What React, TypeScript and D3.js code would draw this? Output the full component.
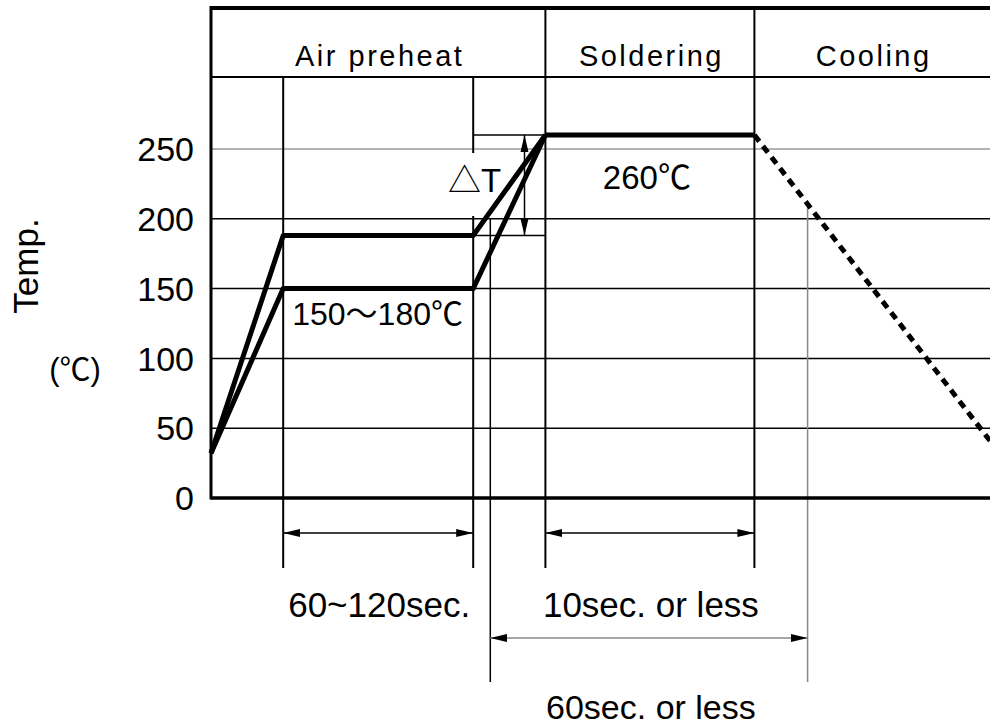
import * as d3 from 'd3';

// stage boundaries along the (schematic) time axis
const stageBounds = [0, 176, 286, 410];
const stageNames = ['Air preheat', 'Soldering', 'Cooling'];

// temperature ticks
const tempTicks = [0, 50, 100, 150, 200, 250];

// profile: [time, temp]
const upperProfile: [number, number][] = [[0, 32], [38, 188], [138, 188], [176, 260]];
const lowerProfile: [number, number][] = [[0, 32], [38, 150], [138, 150], [176, 260]];
const solderProfile: [number, number][] = [[176, 260], [286, 260]];
const coolingProfile: [number, number][] = [[286, 260], [410, 41]];

// dimension marks
const preheatSpan = [38, 138];
const solderSpan = [176, 286];
const dwellSpan = [147, 314];
const deltaT = { t: 165, from: 188, to: 260, x0: 138, x1: 176 };

const W = 990;
const H = 727;
const FONT = "'Liberation Sans', Arial, 'Noto Sans CJK JP', sans-serif";

export default function App() {
  const x = d3.scaleLinear().domain([0, 410]).range([211, 990]);
  const y = d3.scaleLinear().domain([0, 250]).range([498, 149]);
  const line = d3.line<[number, number]>().x(d => x(d[0])).y(d => y(d[1]));

  const topY = 8;
  const headY = 77;
  const extBottom = 568;
  const longBottom = 682;
  const dim1Y = 533;
  const dim2Y = 638;

  // where the 60 sec boundary meets the cooling slope
  const coolAt = d3.scaleLinear()
    .domain([coolingProfile[0][0], coolingProfile[1][0]])
    .range([coolingProfile[0][1], coolingProfile[1][1]]);

  return (
    <svg width={W} height={H} style={{ position: 'absolute', left: 0, top: 0, background: '#fff' }}
      fontFamily={FONT}>
      <defs>
        <marker id="ah" markerUnits="userSpaceOnUse" markerWidth={18} markerHeight={10}
          viewBox="0 -5 18 10" refX={17} refY={0} orient="auto-start-reverse">
          <path d="M0,-4L17,0L0,4Z" fill="#000" />
        </marker>
      </defs>

      {/* gridlines */}
      {tempTicks.slice(1).map(v => (
        <line key={v} x1={x(0)} x2={W} y1={y(v)} y2={y(v)}
          stroke={v === 250 ? '#999' : '#000'} strokeWidth={1.5} />
      ))}

      {/* header frame */}
      <line x1={x(0)} x2={W} y1={topY} y2={topY} stroke="#000" strokeWidth={4} />
      <line x1={x(0)} x2={W} y1={headY} y2={headY} stroke="#000" strokeWidth={2} />
      {stageBounds.slice(1, 3).map(t => (
        <line key={t} x1={x(t)} x2={x(t)} y1={topY} y2={extBottom} stroke="#000" strokeWidth={2} />
      ))}
      {preheatSpan.map(t => (
        <line key={t} x1={x(t)} x2={x(t)} y1={headY} y2={extBottom} stroke="#000" strokeWidth={2} />
      ))}
      <line x1={x(dwellSpan[0])} x2={x(dwellSpan[0])} y1={y(200)} y2={longBottom} stroke="#000" strokeWidth={1.5} />
      <line x1={x(dwellSpan[1])} x2={x(dwellSpan[1])} y1={y(coolAt(dwellSpan[1]))} y2={longBottom}
        stroke="#888" strokeWidth={1.5} />

      {stageNames.map((n, i) => (
        <text key={n} x={(x(stageBounds[i]) + x(stageBounds[i + 1])) / 2 + 1.5} y={66}
          fontSize={29} letterSpacing={2.5} textAnchor="middle">{n}</text>
      ))}

      {/* axes */}
      <line x1={x(0)} x2={x(0)} y1={topY - 2} y2={y(0) + 1.5} stroke="#000" strokeWidth={3} />
      <line x1={x(0)} x2={W} y1={y(0)} y2={y(0)} stroke="#000" strokeWidth={3.5} />
      {tempTicks.map(v => (
        <text key={v} x={194} y={y(v)} dy="0.36em" fontSize={34} textAnchor="end">{v}</text>
      ))}
      <text transform="translate(38,266) rotate(-90)" fontSize={35} textAnchor="middle">Temp.</text>
      <text x={75} y={380} fontSize={31} textAnchor="middle">(℃)</text>

      {/* delta T */}
      <rect x={445} y={153} width={34} height={63} fill="#fff" />
      <line x1={x(deltaT.x0)} x2={x(deltaT.x1)} y1={y(deltaT.to)} y2={y(deltaT.to)} stroke="#000" strokeWidth={1.5} />
      <line x1={x(deltaT.x0)} x2={x(deltaT.x1)} y1={y(deltaT.from)} y2={y(deltaT.from)} stroke="#000" strokeWidth={1.5} />
      <line x1={x(deltaT.t)} x2={x(deltaT.t)} y1={y(deltaT.to)} y2={y(deltaT.from)} stroke="#000"
        strokeWidth={1.5} markerStart="url(#ah)" markerEnd="url(#ah)" />
      <text x={448} y={192} fontSize={33}>△T</text>

      {/* profile */}
      {[upperProfile, lowerProfile, solderProfile].map((p, i) => (
        <path key={i} d={line(p) ?? ''} fill="none" stroke="#000" strokeWidth={5} strokeLinejoin="round" />
      ))}
      <path d={line(coolingProfile) ?? ''} fill="none" stroke="#000" strokeWidth={5} strokeDasharray="8 6" />

      <text x={x(preheatSpan[0]) + 9} y={325} fontSize={32}>150〜180℃</text>
      <text x={(x(solderSpan[0]) + x(solderSpan[1])) / 2 - 3} y={189} fontSize={33} textAnchor="middle">260℃</text>

      {/* dimension arrows */}
      <line x1={x(preheatSpan[0])} x2={x(preheatSpan[1])} y1={dim1Y} y2={dim1Y} stroke="#000" strokeWidth={1.5}
        markerStart="url(#ah)" markerEnd="url(#ah)" />
      <line x1={x(solderSpan[0])} x2={x(solderSpan[1])} y1={dim1Y} y2={dim1Y} stroke="#000" strokeWidth={1.5}
        markerStart="url(#ah)" markerEnd="url(#ah)" />
      <line x1={x(dwellSpan[0])} x2={x(dwellSpan[1])} y1={dim2Y} y2={dim2Y} stroke="#888" strokeWidth={1.5}
        markerStart="url(#ah)" markerEnd="url(#ah)" />

      <text x={x(preheatSpan[0]) + 5} y={617} fontSize={35}>60~120sec.</text>
      <text x={(x(solderSpan[0]) + x(solderSpan[1])) / 2 + 1} y={617} fontSize={35} textAnchor="middle">10sec. or less</text>
      <text x={(x(solderSpan[0]) + x(solderSpan[1])) / 2 + 1} y={719} fontSize={34} textAnchor="middle">60sec. or less</text>
    </svg>
  );
}
